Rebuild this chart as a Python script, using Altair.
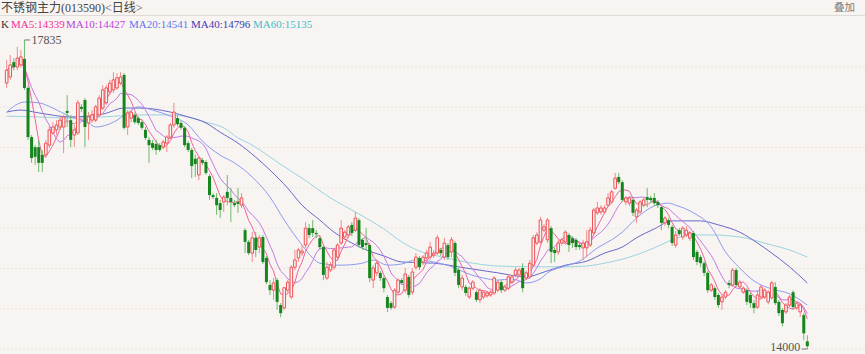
import altair as alt
import pandas as pd

BG = "#f7f4f1"
RED = "#ef5055"
RED_WICK = "#f28a8d"
GREEN = "#15861d"
GREEN_WICK = "#6dbb6d"
SERIF = "Liberation Serif, Noto Sans CJK SC"

title_text = "不锈钢主力(013590)<日线>"
overlay_text = "叠加"
legend_labels = ["K", "MA5:14339", "MA10:14427", "MA20:14541", "MA40:14796", "MA60:15135"]
legend_colors = ["#333333", "#f0329a", "#bb44dd", "#5f78ee", "#3d3db3", "#45bccc"]

opens = [17300, 17375, 17560, 17500, 17525, 17600, 17240, 16630, 16505, 16505,
         16410, 16410, 16530, 16680, 16720, 16755, 16755, 16955, 16840, 16655,
         16680, 17005, 17090, 16805, 16840, 16840, 16905, 16990, 17055, 17190,
         17215, 17240, 17300, 17400, 16755, 16865, 16905, 16865, 16815, 16720,
         16595, 16555, 16545, 16530, 16505, 16555, 16630, 16780, 16865, 16805,
         16745, 16555, 16470, 16360, 16160, 16345, 16320, 16145, 15910, 15875,
         15810, 15825, 15950, 15875, 15810, 15825, 15785, 15475, 15330, 15190,
         15380, 15265, 15390, 15130, 14795, 14730, 14855, 14545, 14510, 14730,
         14645, 15015, 15130, 15190, 15290, 15500, 15500, 15440, 15375, 15265,
         14880, 14980, 15015, 15140, 15315, 15390, 15415, 15540, 15475, 15600,
         15355, 15315, 15290, 14855, 14945, 14945, 14880, 14645, 14570, 14520,
         14705, 14855, 14730, 14895, 14705, 15015, 15130, 15080, 15130, 15140,
         15165, 15190, 15230, 15140, 15290, 15205, 15315, 14980, 14770, 14770,
         14645, 14755, 14705, 14610, 14645, 14660, 14670, 14695, 14730, 14830,
         14730, 14755, 14830, 14920, 14920, 15005, 14880, 14895, 15040, 15315,
         15330, 15475, 15355, 15500, 15230, 15205, 15315, 15330, 15415, 15375,
         15355, 15290, 15255, 15255, 15290, 15440, 15690, 15700, 15700, 15785,
         15825, 15995, 16135, 16070, 15825, 15810, 15850, 15640, 15700, 15785,
         15885, 15875, 15875, 15825, 15760, 15565, 15600, 15515, 15290, 15475,
         15390, 15415, 15375, 15440, 15205, 15140, 15065, 14945, 14730, 14755,
         14670, 14585, 14645, 14820, 14795, 14980, 14770, 14705, 14730, 14670,
         14570, 14520, 14645, 14645, 14585, 14635, 14770, 14585, 14485, 14460,
         14545, 14705, 14510, 14460, 14420, 14095]
highs = [17585, 17650, 17610, 17750, 17710, 17835, 17265, 16655, 16530, 16595,
         16470, 16595, 16780, 16815, 16840, 16880, 16905, 17150, 16905, 16780,
         17090, 17040, 17115, 16940, 16965, 17030, 17150, 17275, 17275, 17340,
         17435, 17425, 17435, 17425, 16965, 16965, 16930, 16890, 16840, 16755,
         16630, 16595, 16595, 16555, 16595, 16655, 16805, 17055, 16905, 16830,
         16765, 16580, 16495, 16410, 16395, 16370, 16345, 16170, 15935, 15935,
         15850, 15910, 16160, 16000, 15850, 16000, 15935, 15500, 15355, 15450,
         15450, 15415, 15415, 15155, 14855, 14880, 14880, 14570, 14770, 14855,
         15040, 15230, 15255, 15290, 15575, 15550, 15600, 15475, 15400, 15290,
         15080, 15080, 15255, 15315, 15600, 15475, 15540, 15575, 15700, 15625,
         15375, 15500, 15315, 15040, 15105, 14970, 14905, 14670, 14595, 14755,
         14880, 14880, 15005, 14920, 15005, 15190, 15155, 15165, 15230, 15330,
         15230, 15415, 15255, 15380, 15315, 15390, 15340, 15005, 14920, 14795,
         14780, 14855, 14730, 14755, 14730, 14720, 14730, 14905, 14855, 14855,
         14795, 14930, 14920, 15015, 15005, 15065, 14970, 15105, 15415, 15450,
         15640, 15550, 15625, 15525, 15255, 15355, 15375, 15475, 15440, 15400,
         15375, 15315, 15355, 15475, 15515, 15750, 15825, 15785, 15785, 15935,
         15975, 16185, 16185, 16095, 15900, 15900, 15875, 15750, 15850, 15875,
         16000, 15900, 15935, 15850, 15785, 15650, 15625, 15540, 15465, 15500,
         15525, 15525, 15465, 15465, 15230, 15165, 15090, 14970, 14820, 14780,
         14695, 14670, 14730, 14855, 15005, 15005, 14855, 14780, 14755, 14695,
         14610, 14730, 14795, 14755, 14730, 14845, 14830, 14610, 14510, 14570,
         14670, 14730, 14595, 14570, 14445, 14170]
lows = [17240, 17340, 17460, 17460, 17490, 17215, 16595, 16310, 16285, 16195,
        16195, 16370, 16495, 16655, 16655, 16720, 16430, 16755, 16505, 16505,
        16655, 16940, 16505, 16595, 16805, 16815, 16880, 16965, 17030, 17150,
        17175, 17215, 17275, 16720, 16655, 16815, 16790, 16780, 16720, 16595,
        16310, 16470, 16410, 16445, 16480, 16445, 16605, 16745, 16765, 16720,
        16505, 16445, 16120, 16135, 16095, 16285, 16160, 15850, 15860, 15665,
        15625, 15700, 15785, 15575, 15760, 15690, 15750, 15190, 15165, 15080,
        15140, 15190, 15055, 14805, 14670, 14610, 14485, 14395, 14485, 14695,
        14620, 14980, 15080, 15155, 15255, 15375, 15390, 15375, 15230, 14855,
        14855, 14955, 14980, 15105, 15290, 15355, 15375, 15400, 15450, 15255,
        15230, 15230, 14830, 14755, 14905, 14845, 14705, 14460, 14485, 14495,
        14680, 14795, 14695, 14635, 14670, 14980, 14980, 15040, 15105, 15105,
        15130, 15165, 15155, 15105, 15105, 15140, 14905, 14755, 14730, 14660,
        14620, 14730, 14585, 14570, 14620, 14635, 14645, 14670, 14705, 14695,
        14705, 14730, 14805, 14895, 14895, 14705, 14855, 14870, 15015, 15290,
        15305, 15450, 15315, 15065, 15080, 15165, 15280, 15305, 15205, 15255,
        15230, 15230, 15105, 15140, 15265, 15415, 15665, 15665, 15675, 15760,
        15800, 15975, 16045, 15825, 15785, 15775, 15650, 15565, 15675, 15760,
        15760, 15810, 15775, 15750, 15475, 15525, 15500, 15280, 15255, 15400,
        15355, 15390, 15340, 15105, 15040, 15015, 14905, 14695, 14705, 14610,
        14510, 14485, 14620, 14755, 14770, 14770, 14745, 14685, 14545, 14510,
        14445, 14495, 14620, 14620, 14555, 14610, 14545, 14410, 14280, 14435,
        14520, 14485, 14485, 14395, 14110, 14000]
closes = [17460, 17525, 17500, 17610, 17625, 17240, 16630, 16370, 16385, 16310,
          16310, 16555, 16720, 16755, 16780, 16840, 16880, 16930, 16595, 16720,
          17055, 16980, 16755, 16880, 16905, 17005, 17115, 17215, 17240, 17300,
          17340, 17365, 17375, 16745, 16930, 16940, 16815, 16805, 16745, 16620,
          16530, 16495, 16470, 16470, 16570, 16630, 16780, 16940, 16790, 16745,
          16530, 16470, 16270, 16295, 16370, 16310, 16185, 15910, 15885, 15785,
          15725, 15885, 15875, 15825, 15785, 15800, 15875, 15330, 15190, 15380,
          15230, 15380, 15080, 14830, 14730, 14820, 14585, 14445, 14760, 14830,
          15015, 15105, 15230, 15215, 15500, 15415, 15440, 15425, 15265, 14920,
          15015, 15040, 15230, 15290, 15500, 15450, 15515, 15440, 15625, 15290,
          15265, 15290, 14880, 15005, 15065, 14880, 14755, 14510, 14510, 14730,
          14855, 14820, 14930, 14670, 14955, 15140, 15015, 15140, 15190, 15265,
          15190, 15380, 15190, 15315, 15140, 15355, 14945, 14795, 14880, 14695,
          14755, 14830, 14610, 14730, 14705, 14695, 14705, 14880, 14830, 14730,
          14770, 14895, 14895, 14980, 14980, 14755, 14945, 15065, 15380, 15415,
          15600, 15515, 15600, 15205, 15190, 15315, 15355, 15450, 15290, 15315,
          15265, 15265, 15315, 15330, 15475, 15725, 15750, 15750, 15750, 15875,
          15950, 16120, 16070, 15850, 15875, 15875, 15690, 15725, 15825, 15850,
          15850, 15850, 15810, 15785, 15565, 15625, 15540, 15315, 15415, 15425,
          15500, 15475, 15440, 15140, 15080, 15065, 14945, 14730, 14795, 14645,
          14545, 14645, 14705, 14795, 14980, 14795, 14830, 14755, 14585, 14570,
          14510, 14670, 14770, 14730, 14705, 14820, 14570, 14445, 14320, 14545,
          14645, 14520, 14570, 14545, 14195, 14035]

ma20_days = [0, 5, 9, 13, 18, 23, 25, 30, 34, 37, 41, 46, 51, 55, 60, 64, 69, 74, 78,
             83, 86, 88, 94, 100, 103, 107, 111, 115, 120, 126, 129, 134, 138, 142, 146,
             150, 152, 157, 161, 166, 170, 173, 177, 182, 186, 188, 193, 198, 202, 206,
             210, 215, 220, 225]
ma20_vals = [16940, 17065, 17055, 16990, 16880, 16805, 16755, 16815, 16930, 17005,
             16965, 16890, 16780, 16580, 16405, 16310, 16135, 15885, 15600, 15290,
             15130, 15065, 15040, 15065, 15105, 15040, 15055, 15105, 15080, 15005,
             14945, 14880, 14855, 14870, 14820, 14870, 14945, 15030, 15090, 15255,
             15355, 15450, 15625, 15775, 15810, 15785, 15690, 15515, 15205, 15005,
             14845, 14745, 14685, 14545]
ma40_days = [0, 4, 9, 18, 27, 33, 37, 41, 46, 51, 56, 60, 65, 70, 74, 79, 83, 88, 92,
             97, 101, 106, 111, 120, 129, 138, 146, 151, 157, 163, 168, 173, 177, 182,
             187, 191, 195, 200, 206, 211, 215, 220, 225]
ma40_vals = [16940, 16965, 16930, 16880, 16915, 16990, 16990, 16980, 16940, 16880,
             16805, 16690, 16555, 16380, 16220, 15995, 15785, 15600, 15450, 15315,
             15230, 15155, 15080, 15065, 15005, 14945, 14895, 14955, 15040, 15090,
             15190, 15265, 15380, 15490, 15590, 15590, 15590, 15540, 15450, 15315,
             15190, 15020, 14820]
ma60_days = [0, 9, 18, 27, 37, 46, 51, 56, 61, 65, 68, 72, 76, 83, 91, 99, 106, 111,
             116, 121, 129, 138, 148, 157, 163, 168, 175, 182, 187, 193, 198, 206, 215,
             220, 225]
ma60_vals = [16890, 16880, 16865, 16880, 16905, 16905, 16880, 16815, 16745, 16620,
             16555, 16445, 16320, 16120, 15875, 15675, 15490, 15330, 15215, 15155,
             15080, 15030, 15020, 15020, 15030, 15065, 15140, 15255, 15355, 15415,
             15415, 15390, 15290, 15230, 15140]

grid_prices = [17500, 17000, 16500, 16000, 15500, 15000, 14500, 14000]

n = len(closes)
df = pd.DataFrame({"day": list(range(n)), "open": opens, "high": highs,
                   "low": lows, "close": closes})
df["dir"] = ["up" if c >= o else "down" for o, c in zip(opens, closes)]

xs = alt.Scale(domain=[-0.47, 239.8], nice=False, zero=False)
ys = alt.Scale(domain=[13938, 18331], nice=False, zero=False)
X = alt.X("day:Q", scale=xs, axis=None)


def Y(field):
    return alt.Y(field, scale=ys, axis=None)


base = alt.Chart(df)

grid = alt.Chart(pd.DataFrame({"price": grid_prices})).mark_rule(
    color="#e9e4df", strokeDash=[2, 2], strokeWidth=1
).encode(y=Y("price:Q"))

wicks = base.mark_rule(strokeWidth=1).encode(
    x=X, y=Y("low:Q"), y2="high:Q",
    color=alt.Color("dir:N", scale=alt.Scale(domain=["up", "down"], range=[RED_WICK, GREEN_WICK]), legend=None),
)

down_bodies = base.transform_filter("datum.dir == 'down'").mark_bar(
    size=3, color=GREEN
).encode(x=X, y=Y("open:Q"), y2="close:Q")

up_bodies = base.transform_filter("datum.dir == 'up'").mark_bar(
    size=2.6, fill=BG, stroke=RED, strokeWidth=1
).encode(x=X, y=Y("open:Q"), y2="close:Q")

ma5 = base.transform_window(ma5="mean(close)", frame=[-4, 0], sort=[{"field": "day"}]).mark_line(
    color="#f2639f", strokeWidth=1
).encode(x=X, y=Y("ma5:Q"))

ma10 = base.transform_window(ma10="mean(close)", frame=[-9, 0], sort=[{"field": "day"}]).mark_line(
    color="#c57be6", strokeWidth=1
).encode(x=X, y=Y("ma10:Q"))


def ma_line(days, vals, color):
    return alt.Chart(pd.DataFrame({"day": days, "v": vals})).mark_line(
        color=color, strokeWidth=1, interpolate="monotone"
    ).encode(x=X, y=Y("v:Q"))


ma20 = ma_line(ma20_days, ma20_vals, "#8e9bf0")
ma40 = ma_line(ma40_days, ma40_vals, "#6868c9")
ma60 = ma_line(ma60_days, ma60_vals, "#99d5df")

hi_i = highs.index(max(highs))
lo_i = lows.index(min(lows))
hi_df = pd.DataFrame({"day": [hi_i], "price": [max(highs)], "label": [str(max(highs))]})
lo_df = pd.DataFrame({"day": [lo_i], "price": [min(lows)], "label": [str(min(lows))]})

hi_tick = alt.Chart(hi_df).transform_calculate(tip="datum.day + 1.6").mark_rule(
    color="#777777", strokeWidth=1).encode(x=X, x2="tip:Q", y=Y("price:Q"))
hi_text = alt.Chart(hi_df).mark_text(
    align="left", baseline="middle", dx=7, font=SERIF, fontSize=12, color="#555555"
).encode(x=X, y=Y("price:Q"), text="label:N")
lo_tick = alt.Chart(lo_df).transform_calculate(tip="datum.day - 1.6").mark_rule(
    color="#777777", strokeWidth=1).encode(x=X, x2="tip:Q", y=Y("price:Q"))
lo_text = alt.Chart(lo_df).mark_text(
    align="right", baseline="middle", dx=-7, dy=-2, font=SERIF, fontSize=12, color="#555555"
).encode(x=X, y=Y("price:Q"), text="label:N")

one = pd.DataFrame({"a": [0]})
sep = alt.Chart(one).mark_rule(color="#dedad5", strokeWidth=1).encode(
    x=alt.value(0), x2=alt.value(865), y=alt.value(15.5))
title = alt.Chart(pd.DataFrame({"t": [title_text]})).mark_text(
    align="left", baseline="middle", font=SERIF, fontSize=12, color="#444444"
).encode(x=alt.value(1), y=alt.value(8), text="t:N")
overlay = alt.Chart(pd.DataFrame({"t": [overlay_text]})).mark_text(
    align="left", baseline="middle", font="Noto Sans CJK SC", fontSize=10.5, color="#7a7a7a"
).encode(x=alt.value(834), y=alt.value(7.5), text="t:N")

legend_x = [1, 11, 66, 129, 191, 253]
legend_layers = []
for lx, lab, col in zip(legend_x, legend_labels, legend_colors):
    legend_layers.append(
        alt.Chart(pd.DataFrame({"t": [lab]})).mark_text(
            align="left", baseline="middle", font=SERIF, fontSize=11, color=col
        ).encode(x=alt.value(lx), y=alt.value(25), text="t:N")
    )

chart = alt.layer(
    grid, ma60, ma40, ma20, ma10, ma5, wicks, down_bodies, up_bodies,
    hi_tick, hi_text, lo_tick, lo_text, sep, title, overlay, *legend_layers
).properties(
    width=865, height=354, background=BG, padding=0,
    autosize=alt.AutoSizeParams(type="none"),
).configure_view(stroke=None)

chart.save("out.html", embed_options={"renderer": "svg", "actions": False})
